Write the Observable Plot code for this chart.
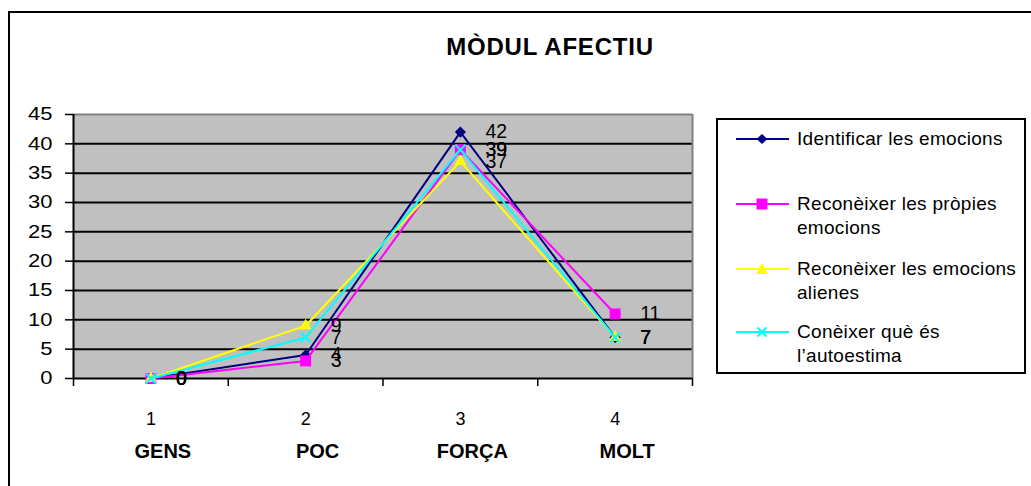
<!DOCTYPE html>
<html>
<head>
<meta charset="utf-8">
<script src="https://cdn.jsdelivr.net/npm/d3@7"></script>
<script src="https://cdn.jsdelivr.net/npm/@observablehq/plot@0.6"></script>
<style>
  html, body { margin: 0; padding: 0; background: #fff; overflow: hidden; }
  #wrap { position: relative; width: 1031px; height: 486px; overflow: hidden; font-family: "Liberation Sans", Arial, sans-serif; color: #000; }
  #outer { position: absolute; left: 8px; top: 11px; width: 1100px; height: 600px; border: 2px solid #000; box-sizing: border-box; }
  #title { position: absolute; left: 350px; width: 400px; top: 35px; text-align: center; font-weight: bold; font-size: 24px; line-height: 24px; letter-spacing: 0.8px; white-space: pre; }
  #chart { position: absolute; left: 0; top: 0; }
  #legend { position: absolute; left: 716px; top: 118px; width: 310px; height: 256px; border: 2px solid #000; box-sizing: border-box; background: #fff; }
  .item { position: absolute; left: 0; }
  .item svg { position: absolute; left: 18px; top: 0; }
  .item .lab { position: absolute; left: 79px; top: 0; font-size: 19px; line-height: 24px; letter-spacing: 0.3px; white-space: pre; }
</style>
</head>
<body>
<div id="wrap">
  <div id="outer"></div>
  <div id="title">MÒDUL AFECTIU</div>
  <div id="chart"></div>
  <div id="legend"></div>
</div>
<script>
// ---- data ----
const categories = ["GENS", "POC", "FORÇA", "MOLT"];
const positions = [1, 2, 3, 4];
const seriesNames = [
  "Identificar les emocions",
  "Reconèixer les pròpies emocions",
  "Reconèixer les emocions alienes",
  "Conèixer què és l’autoestima"
];
const legendLabels = [
  "Identificar les emocions",
  "Reconèixer les pròpies\nemocions",
  "Reconèixer les emocions\nalienes",
  "Conèixer què és\nl’autoestima"
];
const identificar = [0, 4, 42, 7];
const propies = [0, 3, 39, 11];
const alienes = [0, 9, 37, 7];
const autoestima = [0, 7, 39, 7];
const yTicks = [0, 5, 10, 15, 20, 25, 30, 35, 40, 45];
const xBoundaries = [0.5, 1.5, 2.5, 3.5, 4.5];

const colors = ["#000080", "#FF00FF", "#FFFF00", "#00FFFF"];
const symbols = ["diamond2", "square2", "triangle2", "times"];
const radii = [5, 7, 5.8, 4.6];
const allValues = [identificar, propies, alienes, autoestima];

const seriesData = allValues.map((vals, s) =>
  vals.map((v, i) => ({ series: seriesNames[s], pos: positions[i], cat: categories[i], value: v }))
);
const levels = positions.map((p, i) => ({ pos: p, num: String(p), cat: categories[i] }));

const seriesMarks = [];
seriesData.forEach((data, s) => {
  seriesMarks.push(Plot.line(data, { x: "pos", y: "value", stroke: colors[s], strokeWidth: 2 }));
  const isStroke = symbols[s] === "times";
  seriesMarks.push(Plot.dot(data, {
    x: "pos", y: "value", symbol: () => symbols[s], r: radii[s],
    fill: isStroke ? "none" : colors[s],
    stroke: isStroke ? colors[s] : "none",
    strokeWidth: isStroke ? 2 : 0
  }));
});
const labelMarks = seriesData.map(data =>
  Plot.text(data, { x: "pos", y: "value", text: d => String(d.value), dx: 25, textAnchor: "start", lineAnchor: "middle", fontSize: 19.5, fill: "#000" })
);

const chart = Plot.plot({
  width: 1031,
  height: 486,
  marginLeft: 73,
  marginRight: 1031 - 692,
  marginTop: 114,
  marginBottom: 486 - 378,
  style: { background: "transparent", fontFamily: "'Liberation Sans', Arial, sans-serif", fontSize: "17px", color: "#000", overflow: "visible" },
  x: { domain: [0.5, 4.5], axis: null, label: null },
  y: { domain: [0, 45], axis: null, label: null },
  marks: [
    Plot.frame({ fill: "#C0C0C0", stroke: null }),
    Plot.ruleY(yTicks.filter(v => v > 0 && v < 45), { stroke: "#000", strokeWidth: 2 }),
    Plot.ruleY([45], { stroke: "#808080", strokeWidth: 2 }),
    Plot.ruleX([4.5], { stroke: "#808080", strokeWidth: 2 }),
    Plot.axisY({ ticks: yTicks, tickSize: 8, tickPadding: 13, fontSize: 18, stroke: "#000", strokeWidth: 1.5, label: null }),
    Plot.axisX({ ticks: xBoundaries, tickSize: 8, tickFormat: () => "", stroke: "#000", strokeWidth: 1.5, label: null }),
    Plot.ruleY([0], { stroke: "#000", strokeWidth: 2 }),
    Plot.ruleX([0.5], { stroke: "#000", strokeWidth: 2 }),
    ...seriesMarks,
    ...labelMarks,
    Plot.text(levels, { x: "pos", text: "num", frameAnchor: "bottom", dy: 41, lineAnchor: "middle", fontSize: 18, fill: "#000" }),
    Plot.text(levels, { x: "pos", text: "cat", frameAnchor: "bottom", dy: 73, dx: 12, lineAnchor: "middle", fontSize: 20, fontWeight: "bold", fill: "#000" })
  ]
});

// horizontally stretch y tick labels like the original (scale x only, keep vertical offsets)
chart.querySelectorAll('g[aria-label="y-axis tick label"] text').forEach(t => {
  const xa = t.getAttribute("x");
  const ok = xa !== null && !isNaN(+xa);
  const x = ok ? +xa : 0;
  if (ok) t.removeAttribute("x");
  const tr = t.getAttribute("transform") || "";
  t.setAttribute("transform", `${tr} translate(${x},0) scale(1.22,1)`);
});
document.getElementById("chart").appendChild(chart);

// ---- legend ----
const legend = document.getElementById("legend");
const itemTops = [7, 72, 137, 200];
const symPaths = {
  diamond2: c => `<path d="M26,7 L31.5,12 L26,17 L20.5,12 Z" fill="${c}"/>`,
  square2: c => `<rect x="20.5" y="6.5" width="11" height="11" fill="${c}"/>`,
  triangle2: c => `<path d="M26,6 L32,17 L20,17 Z" fill="${c}"/>`,
  times: c => `<path d="M21.5,7.5 L30.5,16.5 M30.5,7.5 L21.5,16.5" stroke="${c}" stroke-width="2" fill="none"/>`
};
legendLabels.forEach((lab, i) => {
  const item = document.createElement("div");
  item.className = "item";
  item.style.top = itemTops[i] + "px";
  item.innerHTML = `<svg width="53" height="24"><line x1="0" x2="53" y1="12" y2="12" stroke="${colors[i]}" stroke-width="2"/>${symPaths[symbols[i]](colors[i])}</svg><div class="lab">${lab}</div>`;
  legend.appendChild(item);
});
</script>
</body>
</html>
